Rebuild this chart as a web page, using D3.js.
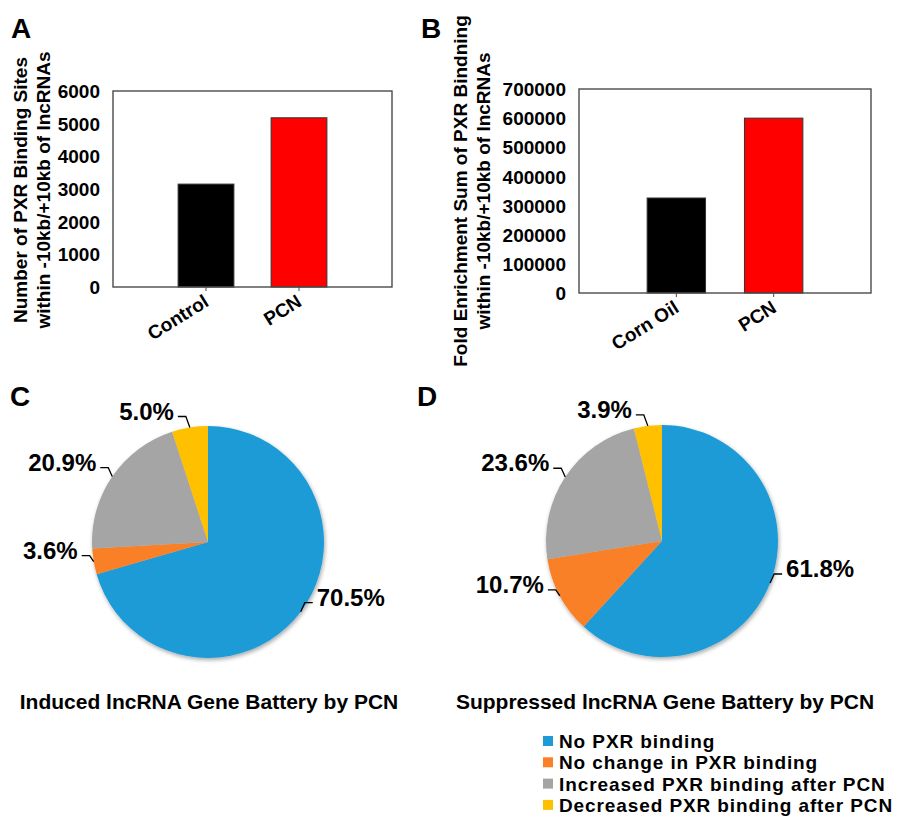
<!DOCTYPE html>
<html>
<head>
<meta charset="utf-8">
<script src="https://cdn.jsdelivr.net/npm/d3@7"></script>
<style>
  body { margin: 0; background: #fff; }
  text { font-family: "Liberation Sans", Arial, Helvetica, sans-serif; font-weight: bold; fill: #000; }
</style>
</head>
<body>
<svg id="fig" width="904" height="817"></svg>
<script>
// ---- data ----
const sitesCategories = ["Control", "PCN"];
const sitesCounts = [3150, 5180];
const sitesTicks = [0, 1000, 2000, 3000, 4000, 5000, 6000];

const enrichCategories = ["Corn Oil", "PCN"];
const enrichSums = [326000, 600000];
const enrichTicks = [0, 100000, 200000, 300000, 400000, 500000, 600000, 700000];

const barColors = ["#000000", "#ff0000"];

const bindingGroups = [
  "No PXR binding",
  "No change in PXR binding",
  "Increased PXR binding after PCN",
  "Decreased PXR binding after PCN"
];
const inducedPct = [70.5, 3.6, 20.9, 5.0];
const suppressedPct = [61.8, 10.7, 23.6, 3.9];
const groupColors = ["#1e9bd7", "#f98026", "#a5a5a5", "#ffc000"];

// ---- drawing ----
const svg = d3.select("#fig");
const defs = svg.append("defs");
const shadow = defs.append("filter").attr("id", "pieShadow")
  .attr("x", "-10%").attr("y", "-10%").attr("width", "120%").attr("height", "120%");
shadow.append("feGaussianBlur").attr("in", "SourceAlpha").attr("stdDeviation", 2.2).attr("result", "b");
shadow.append("feOffset").attr("in", "b").attr("dx", 1).attr("dy", 1.5).attr("result", "o");
shadow.append("feComponentTransfer").attr("in", "o").attr("result", "s")
  .append("feFuncA").attr("type", "linear").attr("slope", 0.35);
const merge = shadow.append("feMerge");
merge.append("feMergeNode").attr("in", "s");
merge.append("feMergeNode").attr("in", "SourceGraphic");

function panelLetter(t, x, y) {
  svg.append("text").attr("x", x).attr("y", y).style("font-size", "28px").text(t);
}

function barPanel(o) {
  const x = d3.scaleBand().domain(o.cats).range([o.left, o.right])
    .paddingInner(0.4).paddingOuter(0.7);
  const y = d3.scaleLinear().domain([0, o.max]).range([o.bottom, o.top]);
  const g = svg.append("g");

  // bars
  g.selectAll("rect.bar").data(o.vals).join("rect")
    .attr("class", "bar")
    .attr("x", (d, i) => x(o.cats[i]))
    .attr("width", x.bandwidth())
    .attr("y", d => y(d))
    .attr("height", d => y(0) - y(d))
    .attr("fill", (d, i) => barColors[i])
    .attr("stroke", "#333").attr("stroke-width", 1);

  // frame
  g.append("rect")
    .attr("x", o.left).attr("y", o.top)
    .attr("width", o.right - o.left).attr("height", o.bottom - o.top)
    .attr("fill", "none").attr("stroke", "#4a4a4a").attr("stroke-width", 1.4);

  // y axis labels
  const ya = d3.axisLeft(y).tickValues(o.ticks).tickSize(0).tickPadding(13).tickFormat(d3.format("d"));
  const yg = g.append("g").attr("transform", `translate(${o.left},0)`).call(ya);
  yg.select(".domain").remove();
  yg.selectAll("text").style("font-size", "19px").attr("dy", "0.35em");

  // x axis
  const xa = d3.axisBottom(x).tickSize(4).tickFormat("");
  const xg = g.append("g").attr("transform", `translate(0,${o.bottom})`).call(xa);
  xg.select(".domain").remove();
  xg.selectAll("line").attr("stroke", "#4a4a4a");
  g.selectAll("text.cat").data(o.cats).join("text")
    .attr("class", "cat")
    .attr("text-anchor", "end")
    .attr("transform", d => `translate(${x(d) + x.bandwidth() / 2 + 4},${o.bottom + 18}) rotate(-32)`)
    .style("font-size", "19px")
    .text(d => d);

  // axis title, two lines
  o.title.forEach((t, i) => {
    svg.append("text")
      .attr("text-anchor", "middle")
      .attr("transform", `translate(${o.titleX + i * 23},${o.titleY}) rotate(-90)`)
      .style("font-size", "19px")
      .text(t);
  });
}

barPanel({
  cats: sitesCategories, vals: sitesCounts, ticks: sitesTicks, max: 6000,
  left: 113, right: 392, top: 91, bottom: 287,
  title: ["Number of PXR Binding Sites", "within -10kb/+10kb of lncRNAs"],
  titleX: 27, titleY: 190
});
barPanel({
  cats: enrichCategories, vals: enrichSums, ticks: enrichTicks, max: 700000,
  left: 579, right: 871, top: 89, bottom: 293,
  title: ["Fold Enrichment Sum of PXR Bindning", "within -10kb/+10kb of lncRNAs"],
  titleX: 467, titleY: 191
});

function piePanel(vals, cx, cy, r, caption, captionX) {
  const pie = d3.pie().sort(null).value(d => d);
  const arcs = pie(vals);
  const arc = d3.arc().innerRadius(0).outerRadius(r);
  const g = svg.append("g").attr("transform", `translate(${cx},${cy})`);
  const sl = g.append("g").attr("filter", "url(#pieShadow)");
  sl.selectAll("path").data(arcs).join("path")
    .attr("d", arc)
    .attr("fill", (d, i) => groupColors[i]);

  arcs.forEach(a => {
    const m = (a.startAngle + a.endAngle) / 2;
    const px = r * Math.sin(m), py = -r * Math.cos(m);
    const s = px >= 0 ? 1 : -1;
    const lift = px >= 0 ? 9 : 6 + 5 * Math.max(0, Math.cos(m));
    const p1 = [px + s * 4, py - lift];
    const p2 = [px + s * 12, py - lift];
    g.append("path")
      .attr("d", d3.line()([[px, py], p1, p2]))
      .attr("fill", "none").attr("stroke", "#000").attr("stroke-width", 1.3);
    g.append("text")
      .attr("x", p2[0] + s * 4)
      .attr("y", p2[1] + 3)
      .attr("text-anchor", s > 0 ? "start" : "end")
      .style("font-size", "24px")
      .text(d3.format(".1f")(a.data) + "%");
  });

  svg.append("text")
    .attr("x", captionX).attr("y", 709)
    .attr("text-anchor", "middle")
    .style("font-size", "21px")
    .text(caption);
}

piePanel(inducedPct, 208, 542, 116, "Induced lncRNA Gene Battery by PCN", 209);
piePanel(suppressedPct, 662, 541, 116, "Suppressed lncRNA Gene Battery by PCN", 665);

// legend
const lg = svg.append("g");
bindingGroups.forEach((name, i) => {
  const yc = 741 + i * 21.3;
  lg.append("rect").attr("x", 543).attr("y", yc - 5).attr("width", 10).attr("height", 10)
    .attr("fill", groupColors[i]);
  lg.append("text").attr("x", 559).attr("y", yc + 7)
    .style("font-size", "19px").style("letter-spacing", "0.9px").text(name);
});

panelLetter("A", 11, 38);
panelLetter("B", 421, 38);
panelLetter("C", 10, 406);
panelLetter("D", 417, 406);
</script>
</body>
</html>
